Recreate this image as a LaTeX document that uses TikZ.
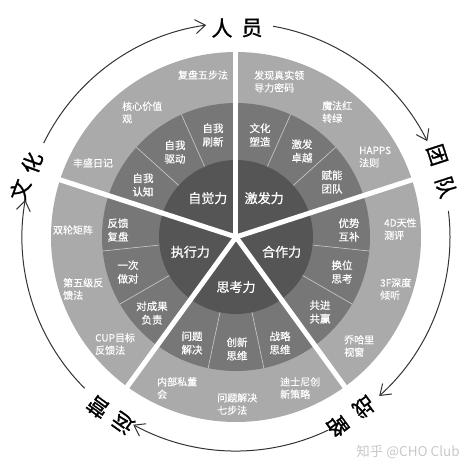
\documentclass[tikz,border=0pt]{standalone}
\usepackage{fontspec}
\setmainfont{Noto Sans CJK SC}
\newfontfamily\cjkcore{Noto Sans CJK SC}[FakeBold=0.8]
\newfontfamily\cjkmid{Noto Sans CJK SC}[FakeBold=0.5]
\newfontfamily\cjkout{Noto Sans CJK SC}[FakeBold=0.3]
\newfontfamily\cjkbig{Noto Sans CJK SC}[FakeBold=1.2]
\usetikzlibrary{arrows.meta}
\definecolor{cinner}{HTML}{555555}
\definecolor{cmid}{HTML}{777777}
\definecolor{couter}{HTML}{AAAAAA}
\definecolor{carc}{HTML}{333333}
\definecolor{cwm}{HTML}{C8C8C8}
\begin{document}
\begin{tikzpicture}[x=1pt,y=1pt,
  midtxt/.style={text=white, font=\cjkmid\fontsize{10.5}{13.5}\selectfont, align=center, inner sep=0pt},
  outtxt/.style={text=white, font=\cjkout\fontsize{10}{12.5}\selectfont, align=left, anchor=west, inner sep=0pt},
  outc/.style={text=white, font=\cjkout\fontsize{10}{12.5}\selectfont, inner sep=0pt},
  core/.style={text=white, font=\cjkcore\fontsize{13}{15}\selectfont, inner sep=0pt},
  big/.style={text=black, font=\cjkbig\fontsize{21}{21}\selectfont, inner sep=0pt},
  cyc/.style={draw=carc, line width=1pt, -{Straight Barb[length=10pt,width=14pt]}},
  sepline/.style={white, line width=5pt},
  subline/.style={draw=white!80!black, line width=0.6pt}]
\useasboundingbox (-236,-232) rectangle (238,237);
% rings
\fill[couter] (0,0) circle (185);
\fill[cmid] (0,0) circle (134);
\fill[cinner] (0,0) circle (77);
\foreach \a in {90,18,-54,-126,162} {
  \foreach \d in {24,48} \draw[subline] (\a+\d:77) -- (\a+\d:134);
}
\foreach \a in {90,18,-54,-126,162} \draw[sepline] (0,0) -- (\a:186);
% core labels
\node[core] (c1) at (126:48) {自觉力};
\node[core] (c2) at (54:48) {激发力};
\node[core] (c3) at (-18:48) {合作力};
\node[core] (c4) at (-90:50) {思考力};
\node[core] (c5) at (198:48) {执行力};
% middle ring
\node[midtxt] (m11) at (-23,102) {自我\\刷新};
\node[midtxt] (m12) at (-61,85) {自我\\驱动};
\node[midtxt] (m13) at (-93,52) {自我\\认知};
\node[midtxt] (m21) at (24,102) {文化\\塑造};
\node[midtxt] (m22) at (66,86) {激发\\卓越};
\node[midtxt] (m23) at (96,55) {赋能\\团队};
\node[midtxt] (m31) at (113,7) {优势\\互补};
\node[midtxt] (m32) at (106,-35) {换位\\思考};
\node[midtxt] (m33) at (84,-75) {共进\\共赢};
\node[midtxt] (m41) at (44,-106) {战略\\思维};
\node[midtxt] (m42) at (1,-112) {创新\\思维};
\node[midtxt] (m43) at (-44,-106) {问题\\解决};
\node[midtxt] (m51) at (-84,-76) {对成果\\负责};
\node[midtxt] (m52) at (-108,-35) {一次\\做对};
\node[midtxt] (m53) at (-118,7) {反馈\\复盘};
% outer ring
\node[outc] (o11) at (-33,162) {复盘五步法};
\node[outtxt] (o12) at (-114,124.5) {核心价值\\观};
\node[outc] (o13) at (-143,74) {丰盛日记};
\node[outtxt] (o21) at (18,155.5) {发现真实领\\导力密码};
\node[outtxt] (o22) at (86,125) {魔法红\\转绿};
\node[outtxt] (o23) at (123,80) {HAPPS\\法则};
\node[outtxt] (o31) at (148,8) {4D天性\\测评};
\node[outtxt] (o32) at (144,-52) {3F深度\\倾听};
\node[outtxt] (o33) at (108,-109) {乔哈里\\视窗};
\node[outtxt] (o41) at (44,-151) {迪士尼创\\新策略};
\node[outtxt] (o42) at (-19,-167) {问题解决\\七步法};
\node[outtxt] (o43) at (-79,-151) {内部私董\\会};
\node[outtxt] (o51) at (-141,-107) {CUP目标\\反馈法};
\node[outtxt] (o52) at (-173,-52) {第五级反\\馈法};
\node[outc] (o53) at (-163,7) {双轮矩阵};
% cycle labels (one node per character, as spaced in the picture)
\node[big] (ry1) at (-14,209) {人};
\node[big] (ry2) at (16,209) {员};
\node[big, rotate=-72] (td1) at (201,82) {团};
\node[big, rotate=-72] (td2) at (210,50) {队};
\node[big, rotate=-144] (zl1) at (128,-170) {战};
\node[big, rotate=-144] (zl2) at (102,-189) {略};
\node[big, rotate=144] (yy1) at (-113,-186) {运};
\node[big, rotate=144] (yy2) at (-138,-170) {营};
\node[big, rotate=70] (wh1) at (-216,47) {文};
\node[big, rotate=70] (wh2) at (-204,74) {化};
% cycle arcs
\draw[cyc] (154:214) arc[start angle=154, end angle=98, radius=214];
\draw[cyc] (80:214) arc[start angle=80, end angle=26.6, radius=214];
\draw[cyc] (7:214) arc[start angle=7, end angle=-48, radius=214];
\draw[cyc] (-64.6:214) arc[start angle=-64.6, end angle=-118.7, radius=214];
\draw[cyc] (-135:214) arc[start angle=-135, end angle=-190, radius=214];
% watermark
\node[text=cwm, font=\fontsize{13.5}{13.5}\selectfont, inner sep=0pt] (wm) at (172,-215) {知乎 @CHO Club};
\end{tikzpicture}
\end{document}
